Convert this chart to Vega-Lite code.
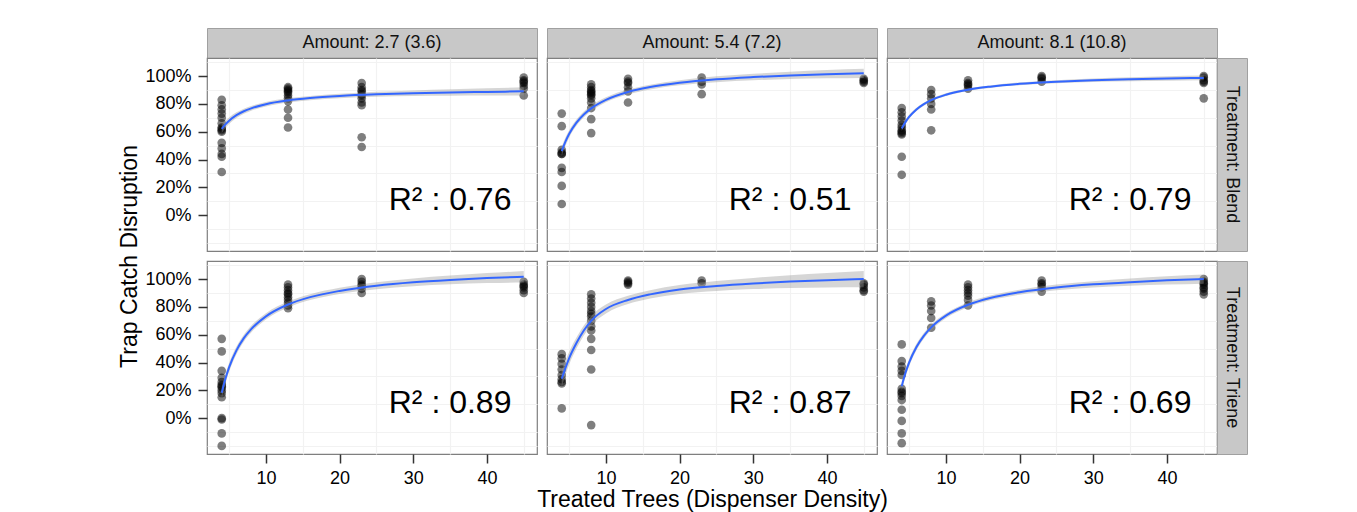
{
"$schema": "https://vega.github.io/schema/vega-lite/v6.json",
"padding": {"left": 117, "top": 27, "right": 5, "bottom": 0},
"background": "white",
"columns": 6,
"spacing": 0,
"bounds": "flush",
"datasets": {
"pts": [
{"t":"Blend","a":"2.7","x":4,"y":83},{"t":"Blend","a":"2.7","x":4,"y":79},{"t":"Blend","a":"2.7","x":4,"y":76},{"t":"Blend","a":"2.7","x":4,"y":73},{"t":"Blend","a":"2.7","x":4,"y":70},{"t":"Blend","a":"2.7","x":4,"y":66},{"t":"Blend","a":"2.7","x":4,"y":63},{"t":"Blend","a":"2.7","x":4,"y":62},{"t":"Blend","a":"2.7","x":4,"y":61},{"t":"Blend","a":"2.7","x":4,"y":60},{"t":"Blend","a":"2.7","x":4,"y":52},{"t":"Blend","a":"2.7","x":4,"y":48},{"t":"Blend","a":"2.7","x":4,"y":44},{"t":"Blend","a":"2.7","x":4,"y":42},{"t":"Blend","a":"2.7","x":4,"y":31},
{"t":"Blend","a":"2.7","x":13,"y":92},{"t":"Blend","a":"2.7","x":13,"y":91},{"t":"Blend","a":"2.7","x":13,"y":90},{"t":"Blend","a":"2.7","x":13,"y":89},{"t":"Blend","a":"2.7","x":13,"y":88},{"t":"Blend","a":"2.7","x":13,"y":86},{"t":"Blend","a":"2.7","x":13,"y":84},{"t":"Blend","a":"2.7","x":13,"y":82},{"t":"Blend","a":"2.7","x":13,"y":76},{"t":"Blend","a":"2.7","x":13,"y":70},{"t":"Blend","a":"2.7","x":13,"y":63},
{"t":"Blend","a":"2.7","x":23,"y":95},{"t":"Blend","a":"2.7","x":23,"y":92},{"t":"Blend","a":"2.7","x":23,"y":90},{"t":"Blend","a":"2.7","x":23,"y":89},{"t":"Blend","a":"2.7","x":23,"y":87},{"t":"Blend","a":"2.7","x":23,"y":86},{"t":"Blend","a":"2.7","x":23,"y":84},{"t":"Blend","a":"2.7","x":23,"y":81},{"t":"Blend","a":"2.7","x":23,"y":79},{"t":"Blend","a":"2.7","x":23,"y":56},{"t":"Blend","a":"2.7","x":23,"y":49},
{"t":"Blend","a":"2.7","x":45,"y":99},{"t":"Blend","a":"2.7","x":45,"y":97},{"t":"Blend","a":"2.7","x":45,"y":96},{"t":"Blend","a":"2.7","x":45,"y":95},{"t":"Blend","a":"2.7","x":45,"y":93},{"t":"Blend","a":"2.7","x":45,"y":91},{"t":"Blend","a":"2.7","x":45,"y":86},
{"t":"Blend","a":"5.4","x":4,"y":73},{"t":"Blend","a":"5.4","x":4,"y":64},{"t":"Blend","a":"5.4","x":4,"y":47},{"t":"Blend","a":"5.4","x":4,"y":45},{"t":"Blend","a":"5.4","x":4,"y":44},{"t":"Blend","a":"5.4","x":4,"y":44},{"t":"Blend","a":"5.4","x":4,"y":34},{"t":"Blend","a":"5.4","x":4,"y":31},{"t":"Blend","a":"5.4","x":4,"y":21},{"t":"Blend","a":"5.4","x":4,"y":8},
{"t":"Blend","a":"5.4","x":8,"y":94},{"t":"Blend","a":"5.4","x":8,"y":92},{"t":"Blend","a":"5.4","x":8,"y":90},{"t":"Blend","a":"5.4","x":8,"y":89},{"t":"Blend","a":"5.4","x":8,"y":88},{"t":"Blend","a":"5.4","x":8,"y":87},{"t":"Blend","a":"5.4","x":8,"y":86},{"t":"Blend","a":"5.4","x":8,"y":84},{"t":"Blend","a":"5.4","x":8,"y":81},{"t":"Blend","a":"5.4","x":8,"y":77},{"t":"Blend","a":"5.4","x":8,"y":69},{"t":"Blend","a":"5.4","x":8,"y":59},
{"t":"Blend","a":"5.4","x":13,"y":98},{"t":"Blend","a":"5.4","x":13,"y":96},{"t":"Blend","a":"5.4","x":13,"y":95},{"t":"Blend","a":"5.4","x":13,"y":92},{"t":"Blend","a":"5.4","x":13,"y":89},{"t":"Blend","a":"5.4","x":13,"y":81},
{"t":"Blend","a":"5.4","x":23,"y":99},{"t":"Blend","a":"5.4","x":23,"y":96},{"t":"Blend","a":"5.4","x":23,"y":94},{"t":"Blend","a":"5.4","x":23,"y":87},
{"t":"Blend","a":"5.4","x":45,"y":98},{"t":"Blend","a":"5.4","x":45,"y":97},{"t":"Blend","a":"5.4","x":45,"y":96},{"t":"Blend","a":"5.4","x":45,"y":95},
{"t":"Blend","a":"8.1","x":4,"y":77},{"t":"Blend","a":"8.1","x":4,"y":74},{"t":"Blend","a":"8.1","x":4,"y":71},{"t":"Blend","a":"8.1","x":4,"y":68},{"t":"Blend","a":"8.1","x":4,"y":65},{"t":"Blend","a":"8.1","x":4,"y":63},{"t":"Blend","a":"8.1","x":4,"y":61},{"t":"Blend","a":"8.1","x":4,"y":60},{"t":"Blend","a":"8.1","x":4,"y":59},{"t":"Blend","a":"8.1","x":4,"y":58},{"t":"Blend","a":"8.1","x":4,"y":42},{"t":"Blend","a":"8.1","x":4,"y":29},
{"t":"Blend","a":"8.1","x":8,"y":90},{"t":"Blend","a":"8.1","x":8,"y":87},{"t":"Blend","a":"8.1","x":8,"y":84},{"t":"Blend","a":"8.1","x":8,"y":80},{"t":"Blend","a":"8.1","x":8,"y":76},{"t":"Blend","a":"8.1","x":8,"y":61},
{"t":"Blend","a":"8.1","x":13,"y":97},{"t":"Blend","a":"8.1","x":13,"y":95},{"t":"Blend","a":"8.1","x":13,"y":94},{"t":"Blend","a":"8.1","x":13,"y":93},{"t":"Blend","a":"8.1","x":13,"y":91},
{"t":"Blend","a":"8.1","x":23,"y":100},{"t":"Blend","a":"8.1","x":23,"y":99},{"t":"Blend","a":"8.1","x":23,"y":98},{"t":"Blend","a":"8.1","x":23,"y":96},
{"t":"Blend","a":"8.1","x":45,"y":100},{"t":"Blend","a":"8.1","x":45,"y":99},{"t":"Blend","a":"8.1","x":45,"y":97},{"t":"Blend","a":"8.1","x":45,"y":96},{"t":"Blend","a":"8.1","x":45,"y":95},{"t":"Blend","a":"8.1","x":45,"y":84},
{"t":"Triene","a":"2.7","x":4,"y":57},{"t":"Triene","a":"2.7","x":4,"y":48},{"t":"Triene","a":"2.7","x":4,"y":34},{"t":"Triene","a":"2.7","x":4,"y":29},{"t":"Triene","a":"2.7","x":4,"y":26},{"t":"Triene","a":"2.7","x":4,"y":24},{"t":"Triene","a":"2.7","x":4,"y":23},{"t":"Triene","a":"2.7","x":4,"y":22},{"t":"Triene","a":"2.7","x":4,"y":20},{"t":"Triene","a":"2.7","x":4,"y":18},{"t":"Triene","a":"2.7","x":4,"y":15},{"t":"Triene","a":"2.7","x":4,"y":0},{"t":"Triene","a":"2.7","x":4,"y":-1},{"t":"Triene","a":"2.7","x":4,"y":-11},{"t":"Triene","a":"2.7","x":4,"y":-20},
{"t":"Triene","a":"2.7","x":13,"y":96},{"t":"Triene","a":"2.7","x":13,"y":94},{"t":"Triene","a":"2.7","x":13,"y":92},{"t":"Triene","a":"2.7","x":13,"y":90},{"t":"Triene","a":"2.7","x":13,"y":89},{"t":"Triene","a":"2.7","x":13,"y":87},{"t":"Triene","a":"2.7","x":13,"y":85},{"t":"Triene","a":"2.7","x":13,"y":83},{"t":"Triene","a":"2.7","x":13,"y":81},{"t":"Triene","a":"2.7","x":13,"y":79},
{"t":"Triene","a":"2.7","x":23,"y":100},{"t":"Triene","a":"2.7","x":23,"y":98},{"t":"Triene","a":"2.7","x":23,"y":96},{"t":"Triene","a":"2.7","x":23,"y":95},{"t":"Triene","a":"2.7","x":23,"y":93},{"t":"Triene","a":"2.7","x":23,"y":90},
{"t":"Triene","a":"2.7","x":45,"y":98},{"t":"Triene","a":"2.7","x":45,"y":96},{"t":"Triene","a":"2.7","x":45,"y":95},{"t":"Triene","a":"2.7","x":45,"y":94},{"t":"Triene","a":"2.7","x":45,"y":92},{"t":"Triene","a":"2.7","x":45,"y":90},
{"t":"Triene","a":"5.4","x":4,"y":46},{"t":"Triene","a":"5.4","x":4,"y":43},{"t":"Triene","a":"5.4","x":4,"y":39},{"t":"Triene","a":"5.4","x":4,"y":35},{"t":"Triene","a":"5.4","x":4,"y":31},{"t":"Triene","a":"5.4","x":4,"y":28},{"t":"Triene","a":"5.4","x":4,"y":26},{"t":"Triene","a":"5.4","x":4,"y":25},{"t":"Triene","a":"5.4","x":4,"y":7},
{"t":"Triene","a":"5.4","x":8,"y":89},{"t":"Triene","a":"5.4","x":8,"y":86},{"t":"Triene","a":"5.4","x":8,"y":83},{"t":"Triene","a":"5.4","x":8,"y":80},{"t":"Triene","a":"5.4","x":8,"y":77},{"t":"Triene","a":"5.4","x":8,"y":75},{"t":"Triene","a":"5.4","x":8,"y":73},{"t":"Triene","a":"5.4","x":8,"y":70},{"t":"Triene","a":"5.4","x":8,"y":66},{"t":"Triene","a":"5.4","x":8,"y":63},{"t":"Triene","a":"5.4","x":8,"y":57},{"t":"Triene","a":"5.4","x":8,"y":49},{"t":"Triene","a":"5.4","x":8,"y":35},{"t":"Triene","a":"5.4","x":8,"y":-5},
{"t":"Triene","a":"5.4","x":13,"y":99},{"t":"Triene","a":"5.4","x":13,"y":98},{"t":"Triene","a":"5.4","x":13,"y":97},{"t":"Triene","a":"5.4","x":13,"y":96},
{"t":"Triene","a":"5.4","x":23,"y":99},{"t":"Triene","a":"5.4","x":23,"y":97},
{"t":"Triene","a":"5.4","x":45,"y":97},{"t":"Triene","a":"5.4","x":45,"y":96},{"t":"Triene","a":"5.4","x":45,"y":94},{"t":"Triene","a":"5.4","x":45,"y":92},{"t":"Triene","a":"5.4","x":45,"y":91},
{"t":"Triene","a":"8.1","x":4,"y":53},{"t":"Triene","a":"8.1","x":4,"y":41},{"t":"Triene","a":"8.1","x":4,"y":37},{"t":"Triene","a":"8.1","x":4,"y":34},{"t":"Triene","a":"8.1","x":4,"y":31},{"t":"Triene","a":"8.1","x":4,"y":21},{"t":"Triene","a":"8.1","x":4,"y":19},{"t":"Triene","a":"8.1","x":4,"y":18},{"t":"Triene","a":"8.1","x":4,"y":16},{"t":"Triene","a":"8.1","x":4,"y":13},{"t":"Triene","a":"8.1","x":4,"y":6},{"t":"Triene","a":"8.1","x":4,"y":-2},{"t":"Triene","a":"8.1","x":4,"y":-11},{"t":"Triene","a":"8.1","x":4,"y":-18},
{"t":"Triene","a":"8.1","x":8,"y":84},{"t":"Triene","a":"8.1","x":8,"y":81},{"t":"Triene","a":"8.1","x":8,"y":77},{"t":"Triene","a":"8.1","x":8,"y":72},{"t":"Triene","a":"8.1","x":8,"y":65},
{"t":"Triene","a":"8.1","x":13,"y":96},{"t":"Triene","a":"8.1","x":13,"y":94},{"t":"Triene","a":"8.1","x":13,"y":92},{"t":"Triene","a":"8.1","x":13,"y":90},{"t":"Triene","a":"8.1","x":13,"y":88},{"t":"Triene","a":"8.1","x":13,"y":85},{"t":"Triene","a":"8.1","x":13,"y":81},
{"t":"Triene","a":"8.1","x":23,"y":99},{"t":"Triene","a":"8.1","x":23,"y":97},{"t":"Triene","a":"8.1","x":23,"y":96},{"t":"Triene","a":"8.1","x":23,"y":94},{"t":"Triene","a":"8.1","x":23,"y":91},
{"t":"Triene","a":"8.1","x":45,"y":100},{"t":"Triene","a":"8.1","x":45,"y":98},{"t":"Triene","a":"8.1","x":45,"y":97},{"t":"Triene","a":"8.1","x":45,"y":96},{"t":"Triene","a":"8.1","x":45,"y":94},{"t":"Triene","a":"8.1","x":45,"y":93},{"t":"Triene","a":"8.1","x":45,"y":91},{"t":"Triene","a":"8.1","x":45,"y":89}
],
"fit": [
{"t":"Blend","a":"2.7","x":4,"fit":62.0,"lo":59.0,"hi":65.0},{"t":"Blend","a":"2.7","x":4.5,"fit":65.3,"lo":62.7,"hi":67.9},{"t":"Blend","a":"2.7","x":5,"fit":67.9,"lo":65.6,"hi":70.2},{"t":"Blend","a":"2.7","x":6,"fit":71.9,"lo":69.9,"hi":73.9},{"t":"Blend","a":"2.7","x":7,"fit":74.7,"lo":72.9,"hi":76.5},{"t":"Blend","a":"2.7","x":8,"fit":76.8,"lo":75.1,"hi":78.5},{"t":"Blend","a":"2.7","x":10,"fit":79.8,"lo":78.2,"hi":81.4},{"t":"Blend","a":"2.7","x":13,"fit":82.5,"lo":81.0,"hi":84.0},{"t":"Blend","a":"2.7","x":16,"fit":84.2,"lo":82.7,"hi":85.7},{"t":"Blend","a":"2.7","x":20,"fit":85.7,"lo":84.1,"hi":87.3},{"t":"Blend","a":"2.7","x":25,"fit":86.9,"lo":85.1,"hi":88.7},{"t":"Blend","a":"2.7","x":30,"fit":87.7,"lo":85.7,"hi":89.7},{"t":"Blend","a":"2.7","x":35,"fit":88.2,"lo":85.9,"hi":90.5},{"t":"Blend","a":"2.7","x":40,"fit":88.6,"lo":86.0,"hi":91.2},{"t":"Blend","a":"2.7","x":45,"fit":89.0,"lo":86.1,"hi":91.9},
{"t":"Blend","a":"5.4","x":4,"fit":46.0,"lo":42.6,"hi":49.4},{"t":"Blend","a":"5.4","x":4.5,"fit":52.8,"lo":49.8,"hi":55.8},{"t":"Blend","a":"5.4","x":5,"fit":58.3,"lo":55.7,"hi":60.9},{"t":"Blend","a":"5.4","x":6,"fit":66.5,"lo":64.2,"hi":68.8},{"t":"Blend","a":"5.4","x":7,"fit":72.4,"lo":70.3,"hi":74.5},{"t":"Blend","a":"5.4","x":8,"fit":76.8,"lo":74.8,"hi":78.8},{"t":"Blend","a":"5.4","x":10,"fit":82.9,"lo":81.1,"hi":84.7},{"t":"Blend","a":"5.4","x":13,"fit":88.6,"lo":86.9,"hi":90.3},{"t":"Blend","a":"5.4","x":16,"fit":92.1,"lo":90.4,"hi":93.8},{"t":"Blend","a":"5.4","x":20,"fit":95.2,"lo":93.4,"hi":97.0},{"t":"Blend","a":"5.4","x":25,"fit":97.7,"lo":95.6,"hi":99.8},{"t":"Blend","a":"5.4","x":30,"fit":99.3,"lo":97.0,"hi":101.6},{"t":"Blend","a":"5.4","x":35,"fit":100.5,"lo":97.9,"hi":103.1},{"t":"Blend","a":"5.4","x":40,"fit":101.4,"lo":98.4,"hi":104.4},{"t":"Blend","a":"5.4","x":45,"fit":102.0,"lo":98.7,"hi":105.3},
{"t":"Blend","a":"8.1","x":4,"fit":62.3,"lo":60.5,"hi":64.1},{"t":"Blend","a":"8.1","x":4.5,"fit":66.9,"lo":65.3,"hi":68.5},{"t":"Blend","a":"8.1","x":5,"fit":70.6,"lo":69.2,"hi":72.0},{"t":"Blend","a":"8.1","x":6,"fit":76.0,"lo":74.8,"hi":77.2},{"t":"Blend","a":"8.1","x":7,"fit":79.8,"lo":78.7,"hi":80.9},{"t":"Blend","a":"8.1","x":8,"fit":82.7,"lo":81.7,"hi":83.7},{"t":"Blend","a":"8.1","x":10,"fit":86.6,"lo":85.6,"hi":87.6},{"t":"Blend","a":"8.1","x":13,"fit":90.2,"lo":89.3,"hi":91.1},{"t":"Blend","a":"8.1","x":16,"fit":92.4,"lo":91.5,"hi":93.3},{"t":"Blend","a":"8.1","x":20,"fit":94.4,"lo":93.4,"hi":95.4},{"t":"Blend","a":"8.1","x":25,"fit":95.9,"lo":94.8,"hi":97.0},{"t":"Blend","a":"8.1","x":30,"fit":97.0,"lo":95.8,"hi":98.2},{"t":"Blend","a":"8.1","x":35,"fit":97.7,"lo":96.3,"hi":99.1},{"t":"Blend","a":"8.1","x":40,"fit":98.3,"lo":96.7,"hi":99.9},{"t":"Blend","a":"8.1","x":45,"fit":98.7,"lo":97.0,"hi":100.4},
{"t":"Triene","a":"2.7","x":4,"fit":18.2,"lo":14.0,"hi":22.4},{"t":"Triene","a":"2.7","x":4.5,"fit":28.3,"lo":24.7,"hi":31.9},{"t":"Triene","a":"2.7","x":5,"fit":36.5,"lo":33.3,"hi":39.7},{"t":"Triene","a":"2.7","x":6,"fit":48.7,"lo":45.9,"hi":51.5},{"t":"Triene","a":"2.7","x":7,"fit":57.5,"lo":55.0,"hi":60.0},{"t":"Triene","a":"2.7","x":8,"fit":64.0,"lo":61.6,"hi":66.4},{"t":"Triene","a":"2.7","x":10,"fit":73.2,"lo":71.0,"hi":75.4},{"t":"Triene","a":"2.7","x":13,"fit":81.7,"lo":79.6,"hi":83.8},{"t":"Triene","a":"2.7","x":16,"fit":87.0,"lo":84.9,"hi":89.1},{"t":"Triene","a":"2.7","x":20,"fit":91.5,"lo":89.3,"hi":93.7},{"t":"Triene","a":"2.7","x":25,"fit":95.2,"lo":92.7,"hi":97.7},{"t":"Triene","a":"2.7","x":30,"fit":97.7,"lo":94.9,"hi":100.5},{"t":"Triene","a":"2.7","x":35,"fit":99.4,"lo":96.2,"hi":102.6},{"t":"Triene","a":"2.7","x":40,"fit":100.7,"lo":97.1,"hi":104.3},{"t":"Triene","a":"2.7","x":45,"fit":101.7,"lo":97.6,"hi":105.8},
{"t":"Triene","a":"5.4","x":4,"fit":28.3,"lo":22.3,"hi":34.3},{"t":"Triene","a":"5.4","x":4.5,"fit":36.0,"lo":30.8,"hi":41.2},{"t":"Triene","a":"5.4","x":5,"fit":43.0,"lo":38.4,"hi":47.6},{"t":"Triene","a":"5.4","x":6,"fit":54.0,"lo":50.0,"hi":58.0},{"t":"Triene","a":"5.4","x":7,"fit":63.0,"lo":59.4,"hi":66.6},{"t":"Triene","a":"5.4","x":8,"fit":70.0,"lo":66.6,"hi":73.4},{"t":"Triene","a":"5.4","x":10,"fit":78.5,"lo":75.3,"hi":81.7},{"t":"Triene","a":"5.4","x":13,"fit":85.0,"lo":82.0,"hi":88.0},{"t":"Triene","a":"5.4","x":16,"fit":89.0,"lo":86.0,"hi":92.0},{"t":"Triene","a":"5.4","x":20,"fit":92.5,"lo":89.3,"hi":95.7},{"t":"Triene","a":"5.4","x":25,"fit":95.0,"lo":91.4,"hi":98.6},{"t":"Triene","a":"5.4","x":30,"fit":96.8,"lo":92.8,"hi":100.8},{"t":"Triene","a":"5.4","x":35,"fit":98.2,"lo":93.6,"hi":102.8},{"t":"Triene","a":"5.4","x":40,"fit":99.2,"lo":94.0,"hi":104.4},{"t":"Triene","a":"5.4","x":45,"fit":100.0,"lo":94.2,"hi":105.8},
{"t":"Triene","a":"8.1","x":4,"fit":23.0,"lo":19.6,"hi":26.5},{"t":"Triene","a":"8.1","x":4.5,"fit":32.4,"lo":29.4,"hi":35.4},{"t":"Triene","a":"8.1","x":5,"fit":39.9,"lo":37.3,"hi":42.6},{"t":"Triene","a":"8.1","x":6,"fit":51.2,"lo":48.9,"hi":53.5},{"t":"Triene","a":"8.1","x":7,"fit":59.2,"lo":57.1,"hi":61.3},{"t":"Triene","a":"8.1","x":8,"fit":65.3,"lo":63.3,"hi":67.3},{"t":"Triene","a":"8.1","x":10,"fit":73.7,"lo":71.9,"hi":75.5},{"t":"Triene","a":"8.1","x":13,"fit":81.5,"lo":79.8,"hi":83.2},{"t":"Triene","a":"8.1","x":16,"fit":86.4,"lo":84.7,"hi":88.1},{"t":"Triene","a":"8.1","x":20,"fit":90.6,"lo":88.8,"hi":92.4},{"t":"Triene","a":"8.1","x":25,"fit":94.0,"lo":91.9,"hi":96.1},{"t":"Triene","a":"8.1","x":30,"fit":96.2,"lo":93.9,"hi":98.5},{"t":"Triene","a":"8.1","x":35,"fit":97.8,"lo":95.2,"hi":100.5},{"t":"Triene","a":"8.1","x":40,"fit":99.1,"lo":96.1,"hi":102.1},{"t":"Triene","a":"8.1","x":45,"fit":100.0,"lo":96.7,"hi":103.3}
],
"r2": [
{"t":"Blend","a":"2.7","lab":"R² : 0.76"},{"t":"Blend","a":"5.4","lab":"R² : 0.51"},{"t":"Blend","a":"8.1","lab":"R² : 0.79"},
{"t":"Triene","a":"2.7","lab":"R² : 0.89"},{"t":"Triene","a":"5.4","lab":"R² : 0.87"},{"t":"Triene","a":"8.1","lab":"R² : 0.69"}
]
},
"concat": [
{"width":330,"height":30,"view":{"fill":"#C8C8C8","stroke":"#A0A0A0"},"data":{"values":[{"lab":"Amount: 2.7 (3.6)"}]},"mark":{"type":"text","fontSize":18,"color":"#111"},"encoding":{"text":{"field":"lab"}}},
{"width":10,"height":10,"data":{"values":[]},"mark":"text","encoding":{}},
{"width":330,"height":30,"view":{"fill":"#C8C8C8","stroke":"#A0A0A0"},"data":{"values":[{"lab":"Amount: 5.4 (7.2)"}]},"mark":{"type":"text","fontSize":18,"color":"#111"},"encoding":{"text":{"field":"lab"}}},
{"width":10,"height":10,"data":{"values":[]},"mark":"text","encoding":{}},
{"width":330,"height":30,"view":{"fill":"#C8C8C8","stroke":"#A0A0A0"},"data":{"values":[{"lab":"Amount: 8.1 (10.8)"}]},"mark":{"type":"text","fontSize":18,"color":"#111"},"encoding":{"text":{"field":"lab"}}},
{"width":10,"height":10,"data":{"values":[]},"mark":"text","encoding":{}},

{"width":330,"height":193,"view":{"stroke":"#7F7F7F","strokeWidth":1.2,"fill":"white"},
 "layer":[
  {"data":{"name":"pts"},"transform":[{"filter":"datum.t==='Blend' && datum.a==='2.7'"}],"mark":{"type":"circle","size":75,"color":"#000","opacity":0.5},
   "encoding":{"x":{"field":"x","type":"quantitative","scale":{"domain":[2,46.8],"nice":false,"zero":false},"axis":{"orient":"top","values":[5,15,25,35,45],"gridColor":"#F2F2F2","labels":false,"ticks":false,"title":null}},
               "y":{"field":"y","type":"quantitative","scale":{"domain":[-25.8,113],"nice":false,"zero":false},"axis":{"orient":"right","values":[-20,-10,10,30,50,70,90,110],"gridColor":"#F2F2F2","labels":false,"ticks":false,"title":null}}}},
  {"data":{"name":"fit"},"transform":[{"filter":"datum.t==='Blend' && datum.a==='2.7'"}],"mark":{"type":"area","color":"#999999","opacity":0.4,"interpolate":"monotone"},
   "encoding":{"x":{"field":"x","type":"quantitative","axis":{"orient":"bottom","values":[10,20,30,40],"gridColor":"#E5E5E5","labels":false,"ticks":false,"title":null}},
               "y":{"field":"lo","type":"quantitative","axis":{"orient":"left","values":[0,20,40,60,80,100],"gridColor":"#E5E5E5","labelExpr":"datum.value + '%'","labelPadding":7,"title":"Trap Catch Disruption","titleY":198,"titlePadding":3.5}},"y2":{"field":"hi"}}},
  {"data":{"name":"fit"},"transform":[{"filter":"datum.t==='Blend' && datum.a==='2.7'"}],"mark":{"type":"line","color":"#3366FF","strokeWidth":2,"interpolate":"monotone"},
   "encoding":{"x":{"field":"x","type":"quantitative","axis":null},"y":{"field":"fit","type":"quantitative","axis":null}}},
  {"data":{"name":"r2"},"transform":[{"filter":"datum.t==='Blend' && datum.a==='2.7'"}],"mark":{"type":"text","fontSize":32,"color":"#000"},
   "encoding":{"x":{"datum":35,"type":"quantitative","axis":null},"y":{"datum":11,"type":"quantitative","axis":null},"text":{"field":"lab"}}}
 ],
 "resolve":{"axis":{"x":"independent","y":"independent"}}},
{"width":10,"height":10,"data":{"values":[]},"mark":"text","encoding":{}},
{"width":330,"height":193,"view":{"stroke":"#7F7F7F","strokeWidth":1.2,"fill":"white"},
 "layer":[
  {"data":{"name":"pts"},"transform":[{"filter":"datum.t==='Blend' && datum.a==='5.4'"}],"mark":{"type":"circle","size":75,"color":"#000","opacity":0.5},
   "encoding":{"x":{"field":"x","type":"quantitative","scale":{"domain":[2,46.8],"nice":false,"zero":false},"axis":{"orient":"top","values":[5,15,25,35,45],"gridColor":"#F2F2F2","labels":false,"ticks":false,"title":null}},
               "y":{"field":"y","type":"quantitative","scale":{"domain":[-25.8,113],"nice":false,"zero":false},"axis":{"orient":"right","values":[-20,-10,10,30,50,70,90,110],"gridColor":"#F2F2F2","labels":false,"ticks":false,"title":null}}}},
  {"data":{"name":"fit"},"transform":[{"filter":"datum.t==='Blend' && datum.a==='5.4'"}],"mark":{"type":"area","color":"#999999","opacity":0.4,"interpolate":"monotone"},
   "encoding":{"x":{"field":"x","type":"quantitative","axis":{"orient":"bottom","values":[10,20,30,40],"gridColor":"#E5E5E5","labels":false,"ticks":false,"title":null}},
               "y":{"field":"lo","type":"quantitative","axis":{"orient":"left","values":[0,20,40,60,80,100],"gridColor":"#E5E5E5","labels":false,"ticks":false,"title":null}},"y2":{"field":"hi"}}},
  {"data":{"name":"fit"},"transform":[{"filter":"datum.t==='Blend' && datum.a==='5.4'"}],"mark":{"type":"line","color":"#3366FF","strokeWidth":2,"interpolate":"monotone"},
   "encoding":{"x":{"field":"x","type":"quantitative","axis":null},"y":{"field":"fit","type":"quantitative","axis":null}}},
  {"data":{"name":"r2"},"transform":[{"filter":"datum.t==='Blend' && datum.a==='5.4'"}],"mark":{"type":"text","fontSize":32,"color":"#000"},
   "encoding":{"x":{"datum":35,"type":"quantitative","axis":null},"y":{"datum":11,"type":"quantitative","axis":null},"text":{"field":"lab"}}}
 ],
 "resolve":{"axis":{"x":"independent","y":"independent"}}},
{"width":10,"height":10,"data":{"values":[]},"mark":"text","encoding":{}},
{"width":330,"height":193,"view":{"stroke":"#7F7F7F","strokeWidth":1.2,"fill":"white"},
 "layer":[
  {"data":{"name":"pts"},"transform":[{"filter":"datum.t==='Blend' && datum.a==='8.1'"}],"mark":{"type":"circle","size":75,"color":"#000","opacity":0.5},
   "encoding":{"x":{"field":"x","type":"quantitative","scale":{"domain":[2,46.8],"nice":false,"zero":false},"axis":{"orient":"top","values":[5,15,25,35,45],"gridColor":"#F2F2F2","labels":false,"ticks":false,"title":null}},
               "y":{"field":"y","type":"quantitative","scale":{"domain":[-25.8,113],"nice":false,"zero":false},"axis":{"orient":"right","values":[-20,-10,10,30,50,70,90,110],"gridColor":"#F2F2F2","labels":false,"ticks":false,"title":null}}}},
  {"data":{"name":"fit"},"transform":[{"filter":"datum.t==='Blend' && datum.a==='8.1'"}],"mark":{"type":"area","color":"#999999","opacity":0.4,"interpolate":"monotone"},
   "encoding":{"x":{"field":"x","type":"quantitative","axis":{"orient":"bottom","values":[10,20,30,40],"gridColor":"#E5E5E5","labels":false,"ticks":false,"title":null}},
               "y":{"field":"lo","type":"quantitative","axis":{"orient":"left","values":[0,20,40,60,80,100],"gridColor":"#E5E5E5","labels":false,"ticks":false,"title":null}},"y2":{"field":"hi"}}},
  {"data":{"name":"fit"},"transform":[{"filter":"datum.t==='Blend' && datum.a==='8.1'"}],"mark":{"type":"line","color":"#3366FF","strokeWidth":2,"interpolate":"monotone"},
   "encoding":{"x":{"field":"x","type":"quantitative","axis":null},"y":{"field":"fit","type":"quantitative","axis":null}}},
  {"data":{"name":"r2"},"transform":[{"filter":"datum.t==='Blend' && datum.a==='8.1'"}],"mark":{"type":"text","fontSize":32,"color":"#000"},
   "encoding":{"x":{"datum":35,"type":"quantitative","axis":null},"y":{"datum":11,"type":"quantitative","axis":null},"text":{"field":"lab"}}}
 ],
 "resolve":{"axis":{"x":"independent","y":"independent"}}},
{"width":30,"height":193,"view":{"fill":"#C8C8C8","stroke":"#A0A0A0"},"data":{"values":[{"lab":"Treatment: Blend"}]},"mark":{"type":"text","fontSize":18,"angle":90,"color":"#111"},"encoding":{"text":{"field":"lab"}}},

{"width":10,"height":10,"data":{"values":[]},"mark":"text","encoding":{}},
{"width":10,"height":10,"data":{"values":[]},"mark":"text","encoding":{}},
{"width":10,"height":10,"data":{"values":[]},"mark":"text","encoding":{}},
{"width":10,"height":10,"data":{"values":[]},"mark":"text","encoding":{}},
{"width":10,"height":10,"data":{"values":[]},"mark":"text","encoding":{}},
{"width":10,"height":10,"data":{"values":[]},"mark":"text","encoding":{}},

{"width":330,"height":193,"view":{"stroke":"#7F7F7F","strokeWidth":1.2,"fill":"white"},
 "layer":[
  {"data":{"name":"pts"},"transform":[{"filter":"datum.t==='Triene' && datum.a==='2.7'"}],"mark":{"type":"circle","size":75,"color":"#000","opacity":0.5},
   "encoding":{"x":{"field":"x","type":"quantitative","scale":{"domain":[2,46.8],"nice":false,"zero":false},"axis":{"orient":"top","values":[5,15,25,35,45],"gridColor":"#F2F2F2","labels":false,"ticks":false,"title":null}},
               "y":{"field":"y","type":"quantitative","scale":{"domain":[-25.8,113],"nice":false,"zero":false},"axis":{"orient":"right","values":[-20,-10,10,30,50,70,90,110],"gridColor":"#F2F2F2","labels":false,"ticks":false,"title":null}}}},
  {"data":{"name":"fit"},"transform":[{"filter":"datum.t==='Triene' && datum.a==='2.7'"}],"mark":{"type":"area","color":"#999999","opacity":0.4,"interpolate":"monotone"},
   "encoding":{"x":{"field":"x","type":"quantitative","axis":{"orient":"bottom","values":[10,20,30,40],"gridColor":"#E5E5E5","labelPadding":6,"title":null}},
               "y":{"field":"lo","type":"quantitative","axis":{"orient":"left","values":[0,20,40,60,80,100],"gridColor":"#E5E5E5","labelExpr":"datum.value + '%'","labelPadding":7,"title":null}},"y2":{"field":"hi"}}},
  {"data":{"name":"fit"},"transform":[{"filter":"datum.t==='Triene' && datum.a==='2.7'"}],"mark":{"type":"line","color":"#3366FF","strokeWidth":2,"interpolate":"monotone"},
   "encoding":{"x":{"field":"x","type":"quantitative","axis":null},"y":{"field":"fit","type":"quantitative","axis":null}}},
  {"data":{"name":"r2"},"transform":[{"filter":"datum.t==='Triene' && datum.a==='2.7'"}],"mark":{"type":"text","fontSize":32,"color":"#000"},
   "encoding":{"x":{"datum":35,"type":"quantitative","axis":null},"y":{"datum":11,"type":"quantitative","axis":null},"text":{"field":"lab"}}}
 ],
 "resolve":{"axis":{"x":"independent","y":"independent"}}},
{"width":10,"height":10,"data":{"values":[]},"mark":"text","encoding":{}},
{"width":330,"height":193,"view":{"stroke":"#7F7F7F","strokeWidth":1.2,"fill":"white"},
 "layer":[
  {"data":{"name":"pts"},"transform":[{"filter":"datum.t==='Triene' && datum.a==='5.4'"}],"mark":{"type":"circle","size":75,"color":"#000","opacity":0.5},
   "encoding":{"x":{"field":"x","type":"quantitative","scale":{"domain":[2,46.8],"nice":false,"zero":false},"axis":{"orient":"top","values":[5,15,25,35,45],"gridColor":"#F2F2F2","labels":false,"ticks":false,"title":null}},
               "y":{"field":"y","type":"quantitative","scale":{"domain":[-25.8,113],"nice":false,"zero":false},"axis":{"orient":"right","values":[-20,-10,10,30,50,70,90,110],"gridColor":"#F2F2F2","labels":false,"ticks":false,"title":null}}}},
  {"data":{"name":"fit"},"transform":[{"filter":"datum.t==='Triene' && datum.a==='5.4'"}],"mark":{"type":"area","color":"#999999","opacity":0.4,"interpolate":"monotone"},
   "encoding":{"x":{"field":"x","type":"quantitative","axis":{"orient":"bottom","values":[10,20,30,40],"gridColor":"#E5E5E5","labelPadding":6,"title":"Treated Trees (Dispenser Density)","titlePadding":1}},
               "y":{"field":"lo","type":"quantitative","axis":{"orient":"left","values":[0,20,40,60,80,100],"gridColor":"#E5E5E5","labels":false,"ticks":false,"title":null}},"y2":{"field":"hi"}}},
  {"data":{"name":"fit"},"transform":[{"filter":"datum.t==='Triene' && datum.a==='5.4'"}],"mark":{"type":"line","color":"#3366FF","strokeWidth":2,"interpolate":"monotone"},
   "encoding":{"x":{"field":"x","type":"quantitative","axis":null},"y":{"field":"fit","type":"quantitative","axis":null}}},
  {"data":{"name":"r2"},"transform":[{"filter":"datum.t==='Triene' && datum.a==='5.4'"}],"mark":{"type":"text","fontSize":32,"color":"#000"},
   "encoding":{"x":{"datum":35,"type":"quantitative","axis":null},"y":{"datum":11,"type":"quantitative","axis":null},"text":{"field":"lab"}}}
 ],
 "resolve":{"axis":{"x":"independent","y":"independent"}}},
{"width":10,"height":10,"data":{"values":[]},"mark":"text","encoding":{}},
{"width":330,"height":193,"view":{"stroke":"#7F7F7F","strokeWidth":1.2,"fill":"white"},
 "layer":[
  {"data":{"name":"pts"},"transform":[{"filter":"datum.t==='Triene' && datum.a==='8.1'"}],"mark":{"type":"circle","size":75,"color":"#000","opacity":0.5},
   "encoding":{"x":{"field":"x","type":"quantitative","scale":{"domain":[2,46.8],"nice":false,"zero":false},"axis":{"orient":"top","values":[5,15,25,35,45],"gridColor":"#F2F2F2","labels":false,"ticks":false,"title":null}},
               "y":{"field":"y","type":"quantitative","scale":{"domain":[-25.8,113],"nice":false,"zero":false},"axis":{"orient":"right","values":[-20,-10,10,30,50,70,90,110],"gridColor":"#F2F2F2","labels":false,"ticks":false,"title":null}}}},
  {"data":{"name":"fit"},"transform":[{"filter":"datum.t==='Triene' && datum.a==='8.1'"}],"mark":{"type":"area","color":"#999999","opacity":0.4,"interpolate":"monotone"},
   "encoding":{"x":{"field":"x","type":"quantitative","axis":{"orient":"bottom","values":[10,20,30,40],"gridColor":"#E5E5E5","labelPadding":6,"title":null}},
               "y":{"field":"lo","type":"quantitative","axis":{"orient":"left","values":[0,20,40,60,80,100],"gridColor":"#E5E5E5","labels":false,"ticks":false,"title":null}},"y2":{"field":"hi"}}},
  {"data":{"name":"fit"},"transform":[{"filter":"datum.t==='Triene' && datum.a==='8.1'"}],"mark":{"type":"line","color":"#3366FF","strokeWidth":2,"interpolate":"monotone"},
   "encoding":{"x":{"field":"x","type":"quantitative","axis":null},"y":{"field":"fit","type":"quantitative","axis":null}}},
  {"data":{"name":"r2"},"transform":[{"filter":"datum.t==='Triene' && datum.a==='8.1'"}],"mark":{"type":"text","fontSize":32,"color":"#000"},
   "encoding":{"x":{"datum":35,"type":"quantitative","axis":null},"y":{"datum":11,"type":"quantitative","axis":null},"text":{"field":"lab"}}}
 ],
 "resolve":{"axis":{"x":"independent","y":"independent"}}},
{"width":30,"height":193,"view":{"fill":"#C8C8C8","stroke":"#A0A0A0"},"data":{"values":[{"lab":"Treatment: Triene"}]},"mark":{"type":"text","fontSize":18,"angle":90,"color":"#111"},"encoding":{"text":{"field":"lab"}}}
],
"config": {
  "view": {"stroke": null},
  "font": "Liberation Sans",
  "text": {"font": "Liberation Sans"},
  "axis": {"labelFont":"Liberation Sans","labelFontSize":18,"labelColor":"#000","tickColor":"#333333","tickWidth":1.5,"tickSize":9,"domain":false,"grid":true,"gridWidth":1.2,"titleFont":"Liberation Sans","titleFontSize":23,"titleFontWeight":"normal","titleColor":"#000"}
}
}
